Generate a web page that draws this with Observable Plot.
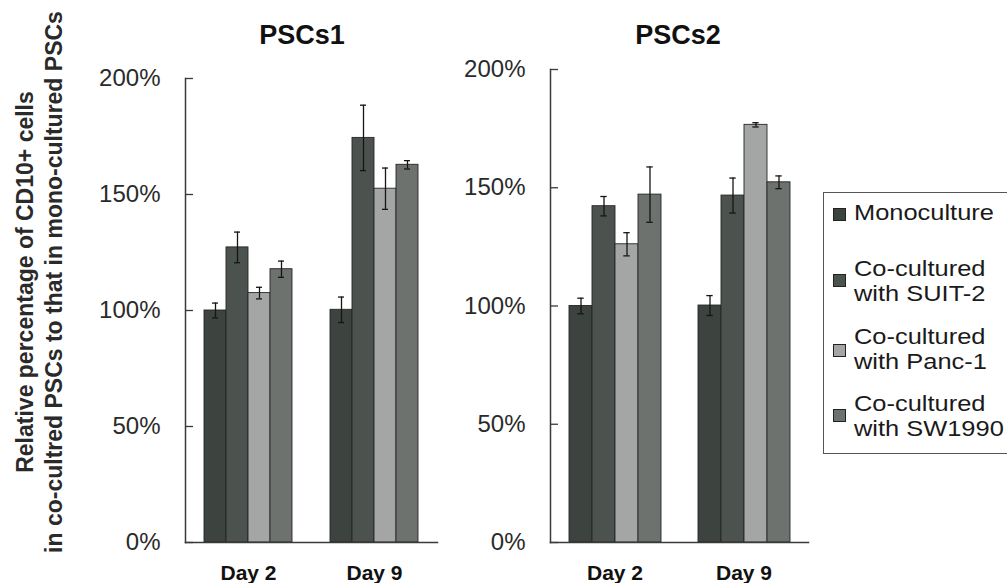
<!DOCTYPE html>
<html><head><meta charset="utf-8">
<script src="https://cdn.jsdelivr.net/npm/d3@7"></script>
<script src="https://cdn.jsdelivr.net/npm/@observablehq/plot@0.6"></script>
<style>
body{margin:0;background:#fff;font-family:"Liberation Sans",Arial,sans-serif;}
#chart{position:relative;width:1007px;height:583px;overflow:hidden;background:#fff;}
#chart svg{position:absolute;top:0;}
#chart svg [aria-label="fx-axis tick label"] text{font-weight:bold;}
.title{position:absolute;font-weight:bold;font-size:27px;line-height:27px;color:#111;width:200px;text-align:center;}
.ytitle{position:absolute;left:-240.5px;top:253px;width:560px;height:58px;transform:rotate(-90deg);transform-origin:center;text-align:center;font-weight:bold;font-size:23px;line-height:29px;color:#2a2a2a;white-space:nowrap;}
.legend-box{position:absolute;left:823px;top:192px;width:260px;height:262px;border:1px solid #555;box-sizing:border-box;}
.leg-item{position:absolute;left:854px;font-size:22.5px;line-height:24.5px;color:#1a1a1a;transform:scaleX(1.13);transform-origin:left top;white-space:nowrap;}
.swatch{position:absolute;left:833px;width:13px;height:13px;border:1px solid #222;box-sizing:border-box;}
</style></head><body><div id="chart"></div>
<script>
const days = ["Day 2", "Day 9"];
const groups = ["Monoculture", "Co-cultured with SUIT-2", "Co-cultured with Panc-1", "Co-cultured with SW1990"];
const legendLines = [["Monoculture"], ["Co-cultured", "with SUIT-2"], ["Co-cultured", "with Panc-1"], ["Co-cultured", "with SW1990"]];
const barColors = ["#3d433f", "#4c534e", "#a4a6a5", "#6d726e"];
const yTicks = [0, 50, 100, 150, 200];
const panelTitles = ["PSCs1", "PSCs2"];
const yTitleLines = ["Relative percentage of CD10+ cells", "in co-cultred PSCs to that in mono-cultured PSCs"];

const pscs1Day2 = [100, 127.2, 107.5, 117.8];
const pscs1Day2Err = [3.2, 6.6, 2.5, 3.5];
const pscs1Day9 = [100.3, 174.4, 152.5, 162.8];
const pscs1Day9Err = [5.5, 14.1, 8.9, 1.8];
const pscs2Day2 = [100, 142.2, 126.1, 147.1];
const pscs2Day2Err = [3.3, 4.1, 4.9, 11.7];
const pscs2Day9 = [100.2, 146.7, 176.6, 152.3];
const pscs2Day9Err = [4.2, 7.4, 0.9, 2.7];

function rows(byDay, errByDay) {
  const out = [];
  days.forEach((day, di) => groups.forEach((g, gi) => out.push({day, group: g, value: byDay[di][gi], err: errByDay[di][gi]})));
  return out;
}

function panel(data, o) {
  const capInset = o.capInset;
  return Plot.plot({
    width: o.width, height: 583,
    marginLeft: o.marginLeft, marginRight: o.marginRight, marginTop: o.marginTop, marginBottom: 41,
    style: {fontFamily: '"Liberation Sans", Arial, sans-serif', background: "transparent", overflow: "visible", color: "#222"},
    fx: {domain: days, padding: 0, label: null},
    x: {domain: groups, paddingInner: 0, paddingOuter: o.po, axis: null},
    y: {domain: [0, 200], axis: null},
    color: {domain: groups, range: barColors},
    marks: [
      Plot.barY(data, {fx: "day", x: "group", y: "value", fill: "group", stroke: "#262626", strokeWidth: 0.9}),
      Plot.ruleX(data, {fx: "day", x: "group", y1: d => d.value - d.err, y2: d => d.value + d.err, stroke: "#151515", strokeWidth: 1.3}),
      Plot.tickY(data, {fx: "day", x: "group", y: d => d.value + d.err, insetLeft: capInset, insetRight: capInset, stroke: "#151515", strokeWidth: 1.3}),
      Plot.tickY(data, {fx: "day", x: "group", y: d => d.value - d.err, insetLeft: capInset, insetRight: capInset, stroke: "#151515", strokeWidth: 1.3}),
      Plot.frame({anchor: "left", facet: "super", stroke: "#3a3a3a", strokeWidth: 1.5}),
      Plot.frame({anchor: "bottom", facet: "super", stroke: "#3a3a3a", strokeWidth: 1.5}),
      Plot.axisY({anchor: "left", ticks: yTicks, tickFormat: d => `${d}%`, tickSize: -8, tickPadding: 33, fontSize: 24, stroke: "#3a3a3a", strokeWidth: 1.3, fill: "#2a2a2a", label: null}),
      Plot.axisFx({anchor: "bottom", tickSize: 0, tickPadding: 23, fontSize: 21, fontWeight: "bold", fill: "#111", label: null})
    ]
  });
}

const chart = document.getElementById("chart");
const left = panel(rows([pscs1Day2, pscs1Day9], [pscs1Day2Err, pscs1Day9Err]),
  {width: 460, marginLeft: 185, marginRight: 23, marginTop: 78, po: 0.769, capInset: 8});
left.style.left = "0px";
chart.appendChild(left);
const right = panel(rows([pscs2Day2, pscs2Day9], [pscs2Day2Err, pscs2Day9Err]),
  {width: 567, marginLeft: 109, marginRight: 199, marginTop: 69, po: 0.785, capInset: 8.3});
right.style.left = "440px";
chart.appendChild(right);

// titles
[[302, panelTitles[0]], [678, panelTitles[1]]].forEach(([cx, t]) => {
  const d = document.createElement("div");
  d.className = "title"; d.textContent = t;
  d.style.left = (cx - 100) + "px"; d.style.top = "22px";
  chart.appendChild(d);
});

// y title
const yt = document.createElement("div");
yt.className = "ytitle";
yt.innerHTML = yTitleLines.map(s => `<div>${s}</div>`).join("");
chart.appendChild(yt);

// legend
const box = document.createElement("div"); box.className = "legend-box"; chart.appendChild(box);
const itemTops = [201, 257, 325, 392];
const swatchTops = [208, 274, 344, 409];
groups.forEach((g, i) => {
  const sw = document.createElement("div"); sw.className = "swatch";
  sw.style.top = swatchTops[i] + "px"; sw.style.background = barColors[i];
  chart.appendChild(sw);
  const t = document.createElement("div"); t.className = "leg-item";
  t.style.top = itemTops[i] + "px";
  t.innerHTML = legendLines[i].join("<br>");
  chart.appendChild(t);
});
</script></body></html>
